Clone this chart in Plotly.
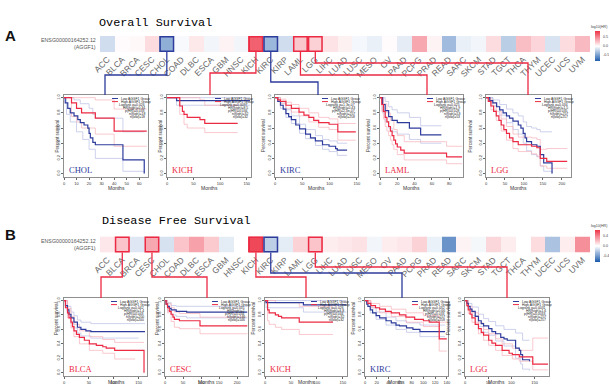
import plotly.graph_objects as go

# ------------------------------------------------------------------ data
CANCERS = ["ACC", "BLCA", "BRCA", "CESC", "CHOL", "COAD", "DLBC", "ESCA", "GBM", "HNSC",
           "KICH", "KIRC", "KIRP", "LAML", "LGG", "LIHC", "LUAD", "LUSC", "MESO", "OV",
           "PAAD", "PCPG", "PRAD", "READ", "SARC", "SKCM", "STAD", "TGCT", "THCA", "THYM",
           "UCEC", "UCS", "UVM"]

OS_LOG10HR = [-0.18, 0.02, 0.03, 0.15, -0.42, -0.03, 0.10, -0.05, 0.05, -0.05,
              0.68, -0.38, -0.18, 0.24, 0.20, 0.12, 0.06, -0.04, -0.08, 0.02,
              -0.10, 0.38, 0.05, -0.36, -0.08, -0.05, 0.15, -0.26, 0.28, 0.18,
              -0.15, 0.15, 0.30]
DFS_LOG10HR = [0.08, 0.20, -0.10, 0.30, -0.12, 0.20, 0.32, 0.18, -0.08, 0.0,
               0.62, -0.20, -0.08, 0.15, 0.20, 0.06, 0.08, 0.10, -0.04, 0.06,
               0.08, 0.15, -0.06, -0.45, 0.04, -0.03, 0.14, 0.06, 0.0, 0.12,
               -0.25, 0.06, 0.38]

OS_SELECTED = ["CHOL", "KICH", "KIRC", "LAML", "LGG"]
DFS_SELECTED = ["BLCA", "CESC", "KICH", "KIRC", "LGG"]

# months axis maxima and tick steps of the survival panels
OS_MONTHS_MAX = [67, 158, 152, 96, 224]
OS_MONTHS_STEP = [10, 50, 50, 20, 50]
DFS_MONTHS_MAX = [167, 230, 158, 142, 181]
DFS_MONTHS_STEP = [50, 50, 50, 20, 50]

# legend statistics: logrank p, HR(high), p(HR), n(high), n(low)
CHOL_OS_STATS = ["0.026", "0.34", "0.033", "18", "18"]
KICH_OS_STATS = ["0.0097", "8.5", "0.034", "32", "32"]
KIRC_OS_STATS = ["1.3e-07", "0.43", "2.3e-07", "257", "258"]
LAML_OS_STATS = ["0.025", "1.9", "0.028", "53", "53"]
LGG_OS_STATS = ["0.034", "1.5", "0.035", "257", "257"]
BLCA_DFS_STATS = ["0.042", "1.4", "0.043", "200", "200"]
CESC_DFS_STATS = ["0.031", "2", "0.034", "146", "146"]
KICH_DFS_STATS = ["0.026", "6.8", "0.044", "32", "32"]
KIRC_DFS_STATS = ["0.032", "0.66", "0.033", "257", "258"]
LGG_DFS_STATS = ["0.0031", "1.6", "0.0033", "257", "257"]

# Kaplan-Meier steps (month, survival); *_UP / *_LO = confidence limits
CHOL_OS_LOW = [(0, 1.0), (1, 0.93), (3, 0.86), (5, 0.80), (8, 0.76), (11, 0.71), (13, 0.67), (16, 0.64),
               (19, 0.60), (20, 0.53), (21, 0.47), (23, 0.41), (25, 0.38), (47, 0.18), (64, 0.0)]
CHOL_OS_HIGH = [(0, 1.0), (6, 0.93), (10, 0.86), (14, 0.80), (25, 0.73), (40, 0.56), (66, 0.56)]
CHOL_OS_LOW_UP = [(0, 1.0), (8, 0.97), (13, 0.92), (20, 0.86), (23, 0.78), (25, 0.73), (47, 0.55), (64, 0.55)]
CHOL_OS_LOW_LO = [(0, 1.0), (2, 0.78), (5, 0.68), (10, 0.55), (15, 0.45), (20, 0.32), (25, 0.2), (47, 0.03), (64, 0.0)]
CHOL_OS_HIGH_UP = [(0, 1.0), (25, 0.97), (40, 0.85), (66, 0.85)]
CHOL_OS_HIGH_LO = [(0, 1.0), (6, 0.75), (10, 0.68), (14, 0.6), (25, 0.52), (40, 0.36), (66, 0.36)]

KICH_OS_LOW = [(0, 1.0), (18, 0.96), (156, 0.96)]
KICH_OS_HIGH = [(0, 1.0), (24, 0.89), (29, 0.82), (32, 0.78), (38, 0.74), (62, 0.71), (71, 0.66), (133, 0.66)]
KICH_OS_LOW_UP = [(0, 1.0), (156, 1.0)]
KICH_OS_LOW_LO = [(0, 1.0), (18, 0.9), (156, 0.9)]
KICH_OS_HIGH_UP = [(0, 1.0), (62, 0.97), (71, 0.9), (133, 0.9)]
KICH_OS_HIGH_LO = [(0, 1.0), (24, 0.78), (32, 0.65), (38, 0.6), (71, 0.54), (133, 0.54)]

KIRC_OS_LOW = [(0, 1.0), (5, 0.95), (10, 0.9), (15, 0.85), (20, 0.79), (25, 0.75), (30, 0.71), (38, 0.64),
               (45, 0.59), (56, 0.52), (65, 0.47), (74, 0.43), (87, 0.38), (99, 0.36), (111, 0.33),
               (114, 0.31), (132, 0.31)]
KIRC_OS_HIGH = [(0, 1.0), (5, 0.97), (10, 0.95), (20, 0.9), (30, 0.86), (44, 0.81), (53, 0.77), (62, 0.74),
                (71, 0.7), (80, 0.67), (99, 0.65), (115, 0.55), (148, 0.55)]
KIRC_OS_LOW_UP = [(0, 1.0), (10, 0.93), (20, 0.84), (30, 0.76), (45, 0.65), (56, 0.58), (74, 0.5),
                  (87, 0.45), (99, 0.43), (114, 0.4), (132, 0.4)]
KIRC_OS_LOW_LO = [(0, 1.0), (10, 0.86), (20, 0.74), (30, 0.66), (45, 0.53), (56, 0.46), (74, 0.37),
                  (87, 0.32), (99, 0.29), (114, 0.24), (132, 0.24)]
KIRC_OS_HIGH_UP = [(0, 1.0), (10, 0.98), (20, 0.94), (30, 0.91), (44, 0.86), (62, 0.8), (80, 0.74),
                   (99, 0.72), (115, 0.66), (148, 0.66)]
KIRC_OS_HIGH_LO = [(0, 1.0), (10, 0.92), (20, 0.86), (30, 0.81), (44, 0.76), (62, 0.68), (80, 0.61),
                   (99, 0.58), (115, 0.44), (148, 0.44)]

LAML_OS_LOW = [(0, 1.0), (3, 0.91), (6, 0.83), (10, 0.75), (14, 0.7), (20, 0.67), (34, 0.6), (47, 0.51), (71, 0.51)]
LAML_OS_HIGH = [(0, 1.0), (2, 0.91), (4, 0.82), (6, 0.74), (8, 0.68), (10, 0.62), (12, 0.56), (14, 0.5),
                (16, 0.44), (18, 0.39), (20, 0.35), (24, 0.31), (28, 0.27), (77, 0.22), (95, 0.22)]
LAML_OS_LOW_UP = [(0, 1.0), (6, 0.95), (10, 0.88), (14, 0.84), (20, 0.8), (34, 0.74), (47, 0.63), (71, 0.63)]
LAML_OS_LOW_LO = [(0, 1.0), (3, 0.8), (6, 0.68), (10, 0.6), (14, 0.55), (20, 0.52), (34, 0.45), (47, 0.4), (71, 0.4)]
LAML_OS_HIGH_UP = [(0, 1.0), (4, 0.92), (8, 0.8), (12, 0.7), (16, 0.58), (20, 0.5), (28, 0.42), (77, 0.36), (95, 0.36)]
LAML_OS_HIGH_LO = [(0, 1.0), (2, 0.82), (4, 0.72), (6, 0.62), (8, 0.56), (10, 0.5), (12, 0.44), (14, 0.38),
                   (16, 0.32), (20, 0.25), (28, 0.18), (77, 0.13), (95, 0.13)]

LGG_OS_LOW = [(0, 1.0), (10, 0.96), (18, 0.93), (28, 0.88), (36, 0.84), (45, 0.8), (54, 0.76), (62, 0.73),
              (71, 0.69), (85, 0.64), (92, 0.6), (98, 0.53), (103, 0.47), (107, 0.42), (120, 0.38),
              (134, 0.36), (143, 0.25), (152, 0.14), (174, 0.0)]
LGG_OS_HIGH = [(0, 1.0), (6, 0.95), (13, 0.89), (20, 0.82), (27, 0.76), (34, 0.7), (40, 0.64), (47, 0.58),
               (54, 0.53), (62, 0.47), (71, 0.42), (85, 0.38), (120, 0.36), (134, 0.34), (143, 0.2),
               (160, 0.16), (214, 0.16)]
LGG_OS_LOW_UP = [(0, 1.0), (18, 0.97), (36, 0.91), (54, 0.85), (71, 0.8), (85, 0.76), (98, 0.68),
                 (107, 0.62), (120, 0.6), (134, 0.58), (143, 0.55), (174, 0.55)]
LGG_OS_LOW_LO = [(0, 1.0), (18, 0.89), (36, 0.77), (54, 0.67), (71, 0.58), (85, 0.52), (98, 0.4),
                 (107, 0.3), (120, 0.25), (134, 0.22), (143, 0.1), (152, 0.03), (174, 0.0)]
LGG_OS_HIGH_UP = [(0, 1.0), (13, 0.93), (27, 0.82), (40, 0.72), (54, 0.62), (71, 0.52), (85, 0.48),
                  (120, 0.47), (134, 0.45), (143, 0.32), (160, 0.33), (214, 0.33)]
LGG_OS_HIGH_LO = [(0, 1.0), (13, 0.84), (27, 0.7), (40, 0.56), (54, 0.44), (71, 0.33), (85, 0.29),
                  (120, 0.26), (134, 0.23), (143, 0.1), (160, 0.07), (214, 0.07)]

BLCA_DFS_LOW = [(0, 1.0), (3, 0.93), (7, 0.87), (10, 0.81), (14, 0.76), (20, 0.7), (27, 0.63), (34, 0.6),
                (44, 0.58), (54, 0.57), (163, 0.57)]
BLCA_DFS_HIGH = [(0, 1.0), (3, 0.9), (7, 0.83), (10, 0.76), (14, 0.7), (17, 0.64), (20, 0.58), (25, 0.53),
                 (31, 0.49), (41, 0.45), (51, 0.4), (65, 0.38), (78, 0.36), (85, 0.34), (102, 0.31), (161, 0.0)]
BLCA_DFS_LOW_UP = [(0, 1.0), (7, 0.92), (14, 0.84), (20, 0.79), (27, 0.73), (34, 0.7), (54, 0.68), (163, 0.68)]
BLCA_DFS_LOW_LO = [(0, 1.0), (7, 0.81), (14, 0.68), (20, 0.62), (27, 0.55), (34, 0.51), (54, 0.48), (150, 0.48)]
BLCA_DFS_HIGH_UP = [(0, 1.0), (7, 0.89), (14, 0.78), (20, 0.67), (31, 0.58), (51, 0.5), (78, 0.46), (102, 0.42), (161, 0.42)]
BLCA_DFS_HIGH_LO = [(0, 1.0), (7, 0.76), (14, 0.62), (20, 0.5), (31, 0.4), (51, 0.31), (78, 0.27), (102, 0.19), (143, 0.19)]

CESC_DFS_LOW = [(0, 1.0), (3, 0.95), (7, 0.92), (12, 0.89), (17, 0.87), (31, 0.85), (60, 0.84), (228, 0.84)]
CESC_DFS_HIGH = [(0, 1.0), (3, 0.95), (7, 0.9), (12, 0.85), (17, 0.81), (22, 0.77), (26, 0.74), (40, 0.72),
                 (97, 0.65), (228, 0.65)]
CESC_DFS_LOW_UP = [(0, 1.0), (7, 0.97), (17, 0.93), (31, 0.92), (228, 0.91)]
CESC_DFS_LOW_LO = [(0, 1.0), (7, 0.86), (17, 0.8), (31, 0.78), (60, 0.76), (228, 0.76)]
CESC_DFS_HIGH_UP = [(0, 1.0), (7, 0.96), (17, 0.9), (26, 0.84), (40, 0.82), (97, 0.77), (228, 0.77)]
CESC_DFS_HIGH_LO = [(0, 1.0), (7, 0.83), (17, 0.71), (26, 0.63), (40, 0.61), (97, 0.54), (228, 0.54)]

KICH_DFS_LOW = [(0, 1.0), (2, 0.97), (74, 0.94), (157, 0.94)]
KICH_DFS_HIGH = [(0, 1.0), (5, 0.87), (8, 0.83), (20, 0.8), (26, 0.78), (32, 0.76), (66, 0.70), (131, 0.70)]
KICH_DFS_LOW_UP = [(0, 1.0), (157, 1.0)]
KICH_DFS_LOW_LO = [(0, 1.0), (2, 0.9), (74, 0.84), (157, 0.84)]
KICH_DFS_HIGH_UP = [(0, 1.0), (20, 0.97), (66, 0.92), (131, 0.92)]
KICH_DFS_HIGH_LO = [(0, 1.0), (5, 0.72), (8, 0.67), (20, 0.63), (32, 0.6), (66, 0.53), (131, 0.53)]

KIRC_DFS_LOW = [(0, 1.0), (3, 0.95), (5, 0.92), (9, 0.87), (13, 0.83), (19, 0.79), (25, 0.76), (36, 0.72),
                (45, 0.69), (53, 0.66), (59, 0.65), (71, 0.62), (82, 0.6), (94, 0.57), (137, 0.57)]
KIRC_DFS_HIGH = [(0, 1.0), (5, 0.96), (10, 0.93), (18, 0.9), (25, 0.88), (35, 0.85), (45, 0.83), (59, 0.8),
                 (70, 0.77), (85, 0.74), (100, 0.72), (110, 0.7), (127, 0.47), (140, 0.47)]
KIRC_DFS_LOW_UP = [(0, 1.0), (9, 0.9), (19, 0.84), (36, 0.77), (53, 0.72), (71, 0.69), (94, 0.66), (137, 0.66)]
KIRC_DFS_LOW_LO = [(0, 1.0), (9, 0.83), (19, 0.74), (36, 0.66), (53, 0.6), (71, 0.56), (94, 0.5), (137, 0.5)]
KIRC_DFS_HIGH_UP = [(0, 1.0), (10, 0.96), (25, 0.92), (45, 0.88), (70, 0.83), (100, 0.79), (127, 0.7), (140, 0.7)]
KIRC_DFS_HIGH_LO = [(0, 1.0), (10, 0.9), (25, 0.83), (45, 0.78), (70, 0.7), (100, 0.64), (127, 0.3), (140, 0.3)]

LGG_DFS_LOW = [(0, 1.0), (4, 0.96), (7, 0.92), (11, 0.88), (15, 0.85), (22, 0.78), (29, 0.72), (35, 0.68),
               (40, 0.65), (51, 0.61), (58, 0.57), (66, 0.54), (77, 0.49), (84, 0.47), (91, 0.45),
               (109, 0.34), (117, 0.31), (120, 0.25), (124, 0.18), (139, 0.16)]
LGG_DFS_HIGH = [(0, 1.0), (4, 0.93), (7, 0.87), (11, 0.81), (15, 0.76), (22, 0.67), (29, 0.61), (35, 0.56),
                (40, 0.52), (51, 0.45), (58, 0.41), (66, 0.38), (80, 0.31), (95, 0.27), (102, 0.25),
                (117, 0.22), (146, 0.12), (179, 0.12)]
LGG_DFS_LOW_UP = [(0, 1.0), (7, 0.96), (15, 0.91), (29, 0.81), (40, 0.75), (51, 0.71), (66, 0.65),
                  (84, 0.6), (109, 0.55), (124, 0.45), (139, 0.45)]
LGG_DFS_LOW_LO = [(0, 1.0), (7, 0.88), (15, 0.79), (29, 0.64), (40, 0.56), (51, 0.52), (66, 0.44),
                  (84, 0.37), (109, 0.2), (120, 0.12), (124, 0.05), (139, 0.03)]
LGG_DFS_HIGH_UP = [(0, 1.0), (7, 0.92), (15, 0.83), (29, 0.69), (40, 0.6), (51, 0.54), (66, 0.47),
                   (80, 0.4), (102, 0.34), (117, 0.31), (146, 0.48), (179, 0.48)]
LGG_DFS_HIGH_LO = [(0, 1.0), (7, 0.82), (15, 0.7), (29, 0.54), (40, 0.45), (51, 0.38), (66, 0.31),
                   (80, 0.24), (102, 0.19), (117, 0.16), (146, 0.04), (179, 0.04)]

OS_CURVES = [
    (CHOL_OS_LOW, CHOL_OS_HIGH, CHOL_OS_LOW_UP, CHOL_OS_LOW_LO, CHOL_OS_HIGH_UP, CHOL_OS_HIGH_LO, CHOL_OS_STATS),
    (KICH_OS_LOW, KICH_OS_HIGH, KICH_OS_LOW_UP, KICH_OS_LOW_LO, KICH_OS_HIGH_UP, KICH_OS_HIGH_LO, KICH_OS_STATS),
    (KIRC_OS_LOW, KIRC_OS_HIGH, KIRC_OS_LOW_UP, KIRC_OS_LOW_LO, KIRC_OS_HIGH_UP, KIRC_OS_HIGH_LO, KIRC_OS_STATS),
    (LAML_OS_LOW, LAML_OS_HIGH, LAML_OS_LOW_UP, LAML_OS_LOW_LO, LAML_OS_HIGH_UP, LAML_OS_HIGH_LO, LAML_OS_STATS),
    (LGG_OS_LOW, LGG_OS_HIGH, LGG_OS_LOW_UP, LGG_OS_LOW_LO, LGG_OS_HIGH_UP, LGG_OS_HIGH_LO, LGG_OS_STATS),
]
DFS_CURVES = [
    (BLCA_DFS_LOW, BLCA_DFS_HIGH, BLCA_DFS_LOW_UP, BLCA_DFS_LOW_LO, BLCA_DFS_HIGH_UP, BLCA_DFS_HIGH_LO, BLCA_DFS_STATS),
    (CESC_DFS_LOW, CESC_DFS_HIGH, CESC_DFS_LOW_UP, CESC_DFS_LOW_LO, CESC_DFS_HIGH_UP, CESC_DFS_HIGH_LO, CESC_DFS_STATS),
    (KICH_DFS_LOW, KICH_DFS_HIGH, KICH_DFS_LOW_UP, KICH_DFS_LOW_LO, KICH_DFS_HIGH_UP, KICH_DFS_HIGH_LO, KICH_DFS_STATS),
    (KIRC_DFS_LOW, KIRC_DFS_HIGH, KIRC_DFS_LOW_UP, KIRC_DFS_LOW_LO, KIRC_DFS_HIGH_UP, KIRC_DFS_HIGH_LO, KIRC_DFS_STATS),
    (LGG_DFS_LOW, LGG_DFS_HIGH, LGG_DFS_LOW_UP, LGG_DFS_LOW_LO, LGG_DFS_HIGH_UP, LGG_DFS_HIGH_LO, LGG_DFS_STATS),
]

# ------------------------------------------------------------------ layout (pixels)
W, H = 609, 390
def fx(p):
    return p / W
def fy(p):
    return 1 - p / H

BLUE = "#2e3c9c"
RED = "#ec2a43"
BLUE_BAND = "#b9bfe4"
RED_BAND = "#f6b2ba"
HM_X = (100, 590)
CBAR_X = (595, 600)

ROWS = [
    dict(values=OS_LOG10HR, selected=OS_SELECTED, curves=OS_CURVES, xmax=OS_MONTHS_MAX, xstep=OS_MONTHS_STEP,
         title="Overall Survival", title_xy=(97, 23), letter="A", letter_xy=(10, 35),
         hm_y=(36, 52), cbar_y=(31, 61), zr=0.85, cticks=[0.5, 0.0, -0.5], cbar_title_y=27,
         box_y=(95, 177), boxes_x=[(64, 148), (167, 251), (275, 358), (380, 463), (486, 571)],
         conn=[(105, 75), (210, 73), (318, 82), (427, 75), (528, 63)], months_dy=11),
    dict(values=DFS_LOG10HR, selected=DFS_SELECTED, curves=DFS_CURVES, xmax=DFS_MONTHS_MAX, xstep=DFS_MONTHS_STEP,
         title="Disease Free Survival", title_xy=(100, 221), letter="B", letter_xy=(10, 234),
         hm_y=(236.5, 252.5), cbar_y=(230, 262), zr=0.67, cticks=[0.4, 0.0, -0.4], cbar_title_y=226,
         box_y=(298, 376), boxes_x=[(64, 147), (165, 248), (265, 347), (365, 448), (465, 549)],
         conn=[(101, 277), (207, 277), (306, 277), (402, 273), (507, 267)], months_dy=11),
]

fig = go.Figure()
layout = dict(width=W, height=H, margin=dict(l=0, r=0, t=0, b=0, autoexpand=False), paper_bgcolor="white",
              plot_bgcolor="white", showlegend=False, font=dict(family="Liberation Sans", color="#333"))
shapes, annots = [], []
ncat = len(CANCERS)
cellw = (HM_X[1] - HM_X[0]) / ncat
scale = [[0, "#1f5eae"], [0.5, "#ffffff"], [1, "#ee3a4c"]]
NSTEP = 60

ax = 2  # survival panels use axes 3..12, colour keys 13..14
for r, row in enumerate(ROWS):
    sfx = "" if r == 0 else "2"
    hx, hy = "x" + sfx, "y" + sfx
    ca = "coloraxis" + sfx
    fig.add_trace(go.Heatmap(z=[row["values"]], x=CANCERS, y=["g"], coloraxis=ca, xaxis=hx, yaxis=hy,
                             hoverinfo="skip", xgap=0, ygap=0))
    layout["xaxis" + sfx] = dict(domain=[fx(HM_X[0]), fx(HM_X[1])], anchor="y" + sfx, tickangle=-45,
                                 tickfont=dict(size=8.5, color="#666"), showgrid=False, zeroline=False,
                                 ticks="", showline=False)
    layout["yaxis" + sfx] = dict(domain=[fy(row["hm_y"][1]), fy(row["hm_y"][0])], anchor="x" + sfx,
                                 visible=False, range=[-0.5, 0.5])
    layout[ca] = dict(cmin=-row["zr"], cmax=row["zr"], colorscale=scale, showscale=False)

    # colour key drawn as its own small heatmap
    kax = 13 + r
    zr = row["zr"]
    grad = [[-zr + 2 * zr * s / (NSTEP - 1)] for s in range(NSTEP)]
    fig.add_trace(go.Heatmap(z=grad, coloraxis=ca, xaxis="x%d" % kax, yaxis="y%d" % kax, hoverinfo="skip"))
    layout["xaxis%d" % kax] = dict(domain=[fx(CBAR_X[0]), fx(CBAR_X[1])], anchor="y%d" % kax, visible=False)
    layout["yaxis%d" % kax] = dict(domain=[fy(row["cbar_y"][1]), fy(row["cbar_y"][0])], anchor="x%d" % kax,
                                   visible=False, range=[-0.5, NSTEP - 0.5])
    for t in row["cticks"]:
        frac = (t + zr) / (2 * zr)
        ypx = row["cbar_y"][1] - frac * (row["cbar_y"][1] - row["cbar_y"][0])
        annots.append(dict(x=fx(CBAR_X[1] + 1), y=fy(ypx), xref="paper", yref="paper", text="%.1f" % t,
                           showarrow=False, xanchor="left", yanchor="middle",
                           font=dict(size=3.6, color="#444")))
    annots.append(dict(x=fx(608.5), y=fy(row["cbar_title_y"]), xref="paper", yref="paper", text="log10(HR)",
                       showarrow=False, xanchor="right", yanchor="middle", font=dict(size=3.6, color="#444")))
    for k, txt in enumerate(["ENSG00000164252.12", "(AGGF1)"]):
        annots.append(dict(x=fx(98), y=fy(row["hm_y"][0] + 4.5 + 6.5 * k), xref="paper", yref="paper",
                           text=txt, showarrow=False, xanchor="right", yanchor="middle",
                           font=dict(size=5.3, color="#555")))
    annots.append(dict(x=fx(row["title_xy"][0]), y=fy(row["title_xy"][1]), xref="paper", yref="paper",
                       text=row["title"], showarrow=False, xanchor="left", yanchor="middle",
                       font=dict(size=11.8, family="Liberation Mono", color="#000")))
    annots.append(dict(x=fx(row["letter_xy"][0]), y=fy(row["letter_xy"][1]), xref="paper", yref="paper",
                       text="<b>%s</b>" % row["letter"], showarrow=False, xanchor="center", yanchor="middle",
                       font=dict(size=15, family="Liberation Sans", color="#111")))

    hm_top, hm_bot = row["hm_y"]
    for j, name in enumerate(row["selected"]):
        i = CANCERS.index(name)
        col = RED if row["values"][i] > 0 else BLUE
        cx0 = HM_X[0] + i * cellw
        shapes.append(dict(type="rect", xref="paper", yref="paper", x0=fx(cx0 + 0.7), x1=fx(cx0 + cellw - 0.7),
                           y0=fy(hm_bot - 0.7), y1=fy(hm_top + 0.7), line=dict(color=col, width=1.5)))
        cxc = cx0 + cellw / 2
        tx, by = row["conn"][j]
        top = row["box_y"][0]
        path = "M %f %f L %f %f L %f %f L %f %f" % (fx(cxc), fy(hm_bot), fx(cxc), fy(by), fx(tx), fy(by), fx(tx), fy(top))
        shapes.append(dict(type="path", xref="paper", yref="paper", path=path, line=dict(color=col, width=1.3)))

        ax += 1
        xa, ya = "x%d" % ax, "y%d" % ax
        bx0, bx1 = row["boxes_x"][j]
        by0, by1 = row["box_y"]
        low, high, lup, llo, hup, hlo, stats = row["curves"][j]
        for pts, c, w in [(lup, BLUE_BAND, 0.7), (llo, BLUE_BAND, 0.7), (hup, RED_BAND, 0.7), (hlo, RED_BAND, 0.7),
                          (low, BLUE, 1.2), (high, RED, 1.2)]:
            fig.add_trace(go.Scatter(x=[p[0] for p in pts], y=[p[1] for p in pts], mode="lines",
                                     line=dict(color=c, width=w, shape="hv"), xaxis=xa, yaxis=ya,
                                     hoverinfo="skip"))
        common = dict(showline=True, mirror=True, linecolor="#8f8f8f", linewidth=0.8, ticks="outside",
                      ticklen=2, tickwidth=0.5, tickcolor="#666", tickfont=dict(size=4, color="#333"),
                      showgrid=False, zeroline=False)
        layout["xaxis%d" % ax] = dict(domain=[fx(bx0), fx(bx1)], anchor=ya, range=[0, row["xmax"][j]],
                                      tick0=0, dtick=row["xstep"][j], **common)
        layout["yaxis%d" % ax] = dict(domain=[fy(by1), fy(by0)], anchor=xa, range=[-0.045, 1.035],
                                      tickvals=[0, 0.2, 0.4, 0.6, 0.8, 1.0],
                                      ticktext=["0.0", "0.2", "0.4", "0.6", "0.8", "1.0"], tickangle=-90, **common)
        annots.append(dict(x=fx(bx0 - 12), y=fy((by0 + by1) / 2), xref="paper", yref="paper",
                           text="Percent survival", showarrow=False, textangle=-90,
                           font=dict(size=4.6, color="#333")))
        annots.append(dict(x=fx((bx0 + bx1) / 2), y=fy(by1 + row["months_dy"]), xref="paper", yref="paper",
                           text="Months", showarrow=False, font=dict(size=5, color="#333")))
        annots.append(dict(x=fx(bx0 + 3), y=fy(by1 - 7), xref="paper", yref="paper", text=name,
                           showarrow=False, xanchor="left", yanchor="middle",
                           font=dict(size=8.5, family="Liberation Serif", color=col)))
        lines = ["Low AGGF1 Group", "High AGGF1 Group", "Logrank p=" + stats[0], "HR(high)=" + stats[1],
                 "p(HR)=" + stats[2], "n(high)=" + stats[3], "n(low)=" + stats[4]]
        for k, txt in enumerate(lines):
            yy = by0 + 3.5 + k * 3.1
            if k < 2:
                annots.append(dict(x=fx(bx1 - 29), y=fy(yy), xref="paper", yref="paper", text=txt,
                                   showarrow=False, xanchor="left", yanchor="middle",
                                   font=dict(size=3.4, color="#222")))
                shapes.append(dict(type="line", xref="paper", yref="paper", x0=fx(bx1 - 36), x1=fx(bx1 - 30),
                                   y0=fy(yy), y1=fy(yy), line=dict(color=BLUE if k == 0 else RED, width=1)))
            else:
                annots.append(dict(x=fx(bx1 - 1.5), y=fy(yy), xref="paper", yref="paper", text=txt,
                                   showarrow=False, xanchor="right", yanchor="middle",
                                   font=dict(size=3.4, color="#222")))

layout["shapes"] = shapes
layout["annotations"] = annots
fig.update_layout(**layout)
fig.write_html("out.html", config={"displayModeBar": False},
               post_script="document.body.style.margin='0';document.body.style.padding='0';"
                           "document.documentElement.style.overflow='hidden';")
